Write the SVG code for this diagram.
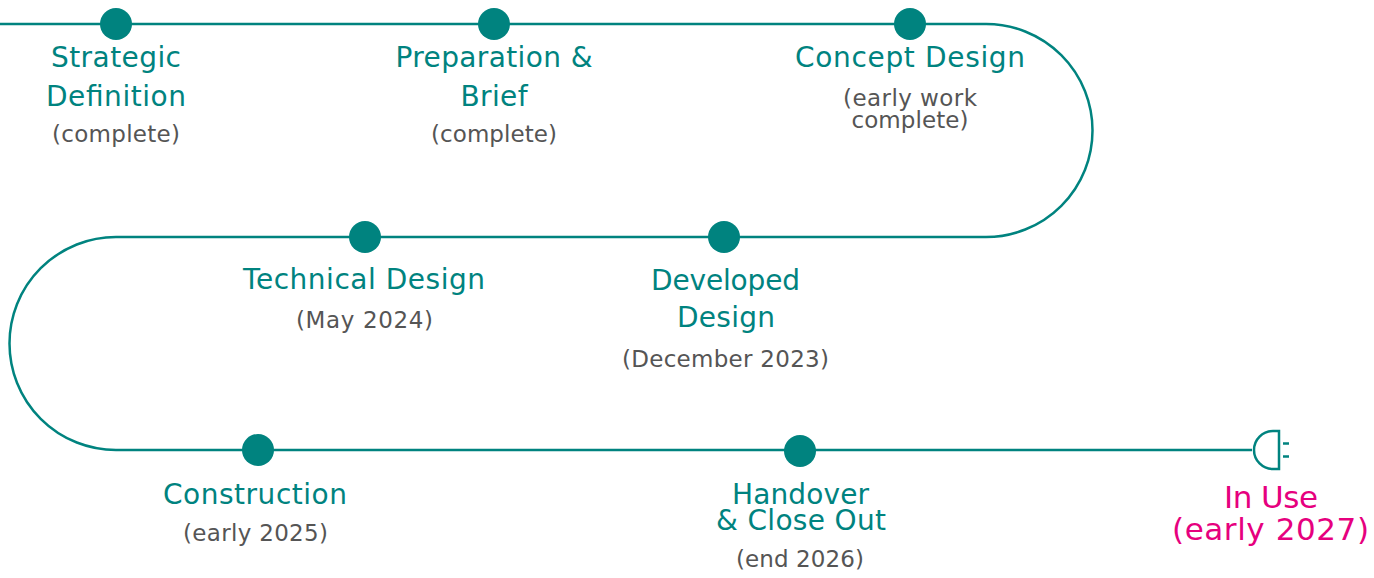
<svg xmlns="http://www.w3.org/2000/svg" width="1374" height="578" viewBox="0 0 1374 578">
<style>
.t{font-family:"DejaVu Sans",sans-serif;font-size:28px;fill:#00837f;text-anchor:middle}
.g{font-family:"DejaVu Sans",sans-serif;font-size:23px;fill:#555555;text-anchor:middle}
.p{font-family:"DejaVu Sans",sans-serif;font-size:31px;fill:#e6007e;text-anchor:middle}
.dot{fill:#00837f}
.ln{fill:none;stroke:#00837f;stroke-width:2.5}
</style>
<rect width="1374" height="578" fill="#ffffff"/>
<g id="connectors">
<path class="ln" d="M0,24 H986 A106.5,106.5 0 0 1 986,237 H116 A106.5,106.5 0 0 0 116,450 H1252"/>
</g>
<g id="strategic-definition">
<circle class="dot" cx="116" cy="24" r="16"/>
<text class="t" x="116" y="67" textLength="130">Strategic</text>
<text class="t" x="116" y="106" textLength="140">Definition</text>
<text class="g" x="116" y="142" textLength="128">(complete)</text>
</g>
<g id="preparation-brief">
<circle class="dot" cx="494" cy="24" r="16"/>
<text class="t" x="494" y="67" textLength="197">Preparation &amp;</text>
<text class="t" x="494" y="106" textLength="67">Brief</text>
<text class="g" x="494" y="142" textLength="126">(complete)</text>
</g>
<g id="concept-design">
<circle class="dot" cx="910" cy="24" r="16"/>
<text class="t" x="910" y="67" textLength="230">Concept Design</text>
<text class="g" x="910" y="106" textLength="134">(early work</text>
<text class="g" x="910" y="128" textLength="117">complete)</text>
</g>
<g id="technical-design">
<circle class="dot" cx="365" cy="237" r="16"/>
<text class="t" x="364" y="289" textLength="242">Technical Design</text>
<text class="g" x="364.5" y="328" textLength="137">(May 2024)</text>
</g>
<g id="developed-design">
<circle class="dot" cx="724" cy="237" r="16"/>
<text class="t" x="725.5" y="290" textLength="149">Developed</text>
<text class="t" x="726" y="327" textLength="98">Design</text>
<text class="g" x="725.5" y="367" textLength="207">(December 2023)</text>
</g>
<g id="construction">
<circle class="dot" cx="258" cy="450" r="16"/>
<text class="t" x="255" y="504" textLength="184">Construction</text>
<text class="g" x="255.5" y="541" textLength="145">(early 2025)</text>
</g>
<g id="handover-close-out">
<circle class="dot" cx="800" cy="451" r="16"/>
<text class="t" x="800.5" y="504" textLength="137">Handover</text>
<text class="t" x="801" y="530" textLength="170">&amp; Close Out</text>
<text class="g" x="800" y="567" textLength="128">(end 2026)</text>
</g>
<g id="in-use">
<path class="ln" d="M1279,431 H1273 A19,19 0 0 0 1273,469 H1279 Z"/>
<path class="ln" d="M1283,443.5 H1289 M1283,456.5 H1289"/>
<text class="p" x="1271" y="508" textLength="94">In Use</text>
<text class="p" x="1270.5" y="540" textLength="197">(early 2027)</text>
</g>
</svg>
